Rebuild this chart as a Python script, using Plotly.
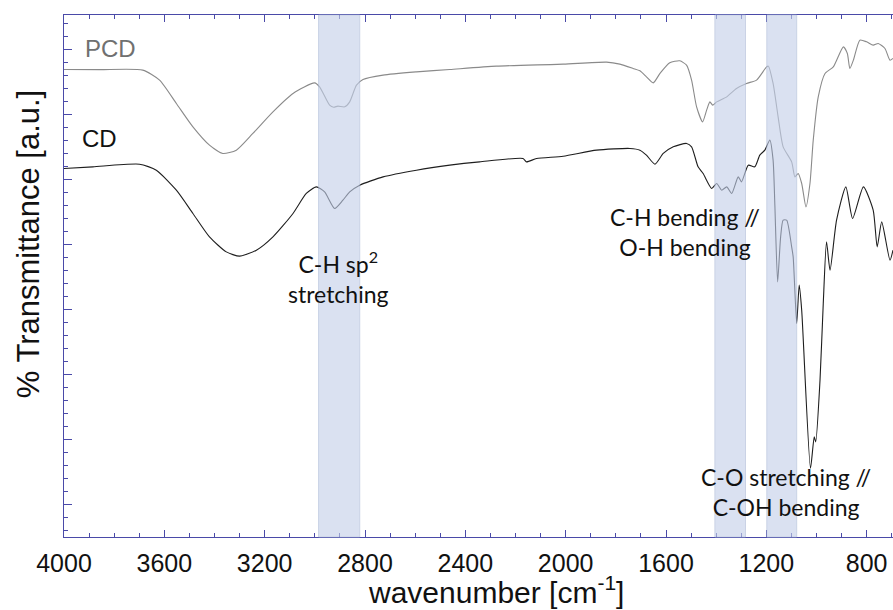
import plotly.graph_objects as go

# FTIR spectra (wavenumber in cm^-1, transmittance in arbitrary units)
pcd_wavenumber = [4000, 3858, 3686, 3619, 3552, 3486, 3420, 3367, 3313, 3247, 3167, 3087,
                  3001, 2981, 2941, 2925, 2908, 2881, 2861, 2834, 2808, 2728, 2595, 2462,
                  2276, 2010, 1837, 1784, 1731, 1704, 1678, 1651, 1624, 1585, 1545, 1518,
                  1498, 1478, 1454, 1438, 1425, 1414, 1398, 1358, 1319, 1279, 1239, 1199,
                  1192, 1173, 1153, 1133, 1099, 1086, 1073, 1059, 1042, 1026, 1013, 993,
                  966, 933, 893, 877, 867, 853, 827, 800, 774, 754, 727, 707, 695]
pcd_transmittance = [76.92, 76.89, 76.82, 75.28, 71.69, 68.09, 65.28, 64.0, 64.51, 67.08, 70.4, 73.23,
                     74.86, 74.25, 71.43, 71.12, 71.28, 71.17, 71.94, 74.51, 75.38, 76.05, 76.55, 76.92,
                     77.43, 77.74, 78.05, 77.74, 77.08, 76.71, 75.78, 74.86, 76.31, 77.94, 78.25, 77.58,
                     75.28, 71.17, 68.86, 70.66, 71.94, 71.43, 71.94, 72.71, 74.0, 74.77, 75.28, 77.32,
                     77.43, 74.77, 69.63, 65.02, 62.71, 60.4, 60.92, 59.38, 55.78, 59.38, 66.05, 72.71,
                     76.31, 77.32, 80.4, 79.38, 77.08, 78.35, 81.43, 81.17, 80.66, 80.92, 80.15, 78.35, 78.62]

cd_wavenumber = [4000, 3885, 3699, 3632, 3552, 3486, 3420, 3353, 3300, 3233, 3167, 3087,
                 3034, 2994, 2961, 2921, 2888, 2861, 2821, 2728, 2595, 2462, 2343, 2170,
                 2156, 2116, 2010, 1877, 1744, 1704, 1678, 1644, 1611, 1571, 1518, 1498,
                 1472, 1452, 1418, 1398, 1378, 1358, 1338, 1312, 1299, 1272, 1246, 1226,
                 1206, 1186, 1173, 1166, 1155, 1143, 1133, 1119, 1099, 1093, 1079, 1069,
                 1059, 1024, 1009, 1003, 986, 973, 960, 946, 920, 883, 856, 813,
                 774, 758, 740, 707, 695]
cd_transmittance = [61.69, 61.94, 62.35, 61.43, 58.35, 54.77, 51.17, 48.86, 48.2, 49.12, 51.17, 54.77,
                    57.85, 58.86, 58.09, 55.54, 56.82, 58.09, 59.12, 60.4, 61.43, 62.2, 62.71, 63.23,
                    62.71, 63.23, 63.58, 64.51, 64.77, 64.51, 63.74, 62.35, 64.0, 65.02, 65.54, 65.02,
                    61.94, 60.92, 58.62, 59.38, 58.35, 58.86, 57.85, 60.4, 59.63, 62.2, 61.94, 63.74,
                    64.51, 66.05, 62.97, 56.05, 44.25, 51.17, 53.74, 53.74, 49.63, 48.09, 37.85, 43.74,
                    39.89, 15.58, 20.4, 19.63, 29.12, 40.97, 50.4, 46.05, 53.74, 58.86, 54.0, 58.86,
                    55.28, 49.63, 53.48, 47.58, 49.12]

# Highlighted absorption regions (cm^-1)
band_starts = [2985, 1405, 1198]
band_ends = [2821, 1283, 1079]

# Band labels: text, wavenumber position, vertical position
band_labels = ["C-H sp<sup>2</sup><br>stretching", "C-H bending //<br>O-H bending",
               "C-O stretching //<br>C-OH bending"]
band_label_x = [2905, 1525, 1120]
band_label_y = [44.9, 51.97, 11.94]

# Sample names
sample_names = ["PCD", "CD"]
sample_name_x = [3926, 3938]
sample_name_y = [80.15, 66.3]
sample_name_colors = ["#707070", "#111111"]

x_tick_values = [4000, 3600, 3200, 2800, 2400, 2000, 1600, 1200, 800]
x_tick_text = [str(v) for v in x_tick_values]

axis_color = "#4a4aa8"
font_main = "Arial, Liberation Sans, sans-serif"
font_note = "Lato, Carlito, Calibri, sans-serif"

fig = go.Figure()

fig.add_trace(go.Scatter(
    x=pcd_wavenumber, y=pcd_transmittance, mode="lines", name="PCD",
    line=dict(color="#8a8a8a", width=1.1, shape="spline", smoothing=0.6),
))
fig.add_trace(go.Scatter(
    x=cd_wavenumber, y=cd_transmittance, mode="lines", name="CD",
    line=dict(color="#1e1e1e", width=1.1, shape="spline", smoothing=0.6),
))

for x0, x1 in zip(band_starts, band_ends):
    fig.add_shape(
        type="rect", xref="x", yref="paper", x0=x0, x1=x1, y0=0, y1=1,
        fillcolor="rgb(196,208,234)", opacity=0.62, layer="above",
        line=dict(color="rgb(170,184,214)", width=1),
    )

for text, x, y in zip(band_labels, band_label_x, band_label_y):
    fig.add_annotation(
        x=x, y=y, xref="x", yref="y", text=text, showarrow=False,
        align="center", xanchor="center", yanchor="middle",
        font=dict(family=font_note, size=23, color="#111111"),
    )

for text, x, y, c in zip(sample_names, sample_name_x, sample_name_y, sample_name_colors):
    fig.add_annotation(
        x=x, y=y, xref="x", yref="y", text=text, showarrow=False,
        xanchor="left", yanchor="middle",
        font=dict(family=font_main, size=24, color=c),
    )

# Axis titles
fig.add_annotation(
    x=0.521, y=-0.1395, xref="paper", yref="paper",
    text="wavenumber [cm<sup>-1</sup>]", showarrow=False,
    xanchor="center", yanchor="bottom", borderpad=0,
    font=dict(family=font_main, size=30, color="#111111"),
)
fig.add_annotation(
    x=-0.0434, y=0.561, xref="paper", yref="paper",
    text="% Transmittance [a.u.]", showarrow=False, textangle=-90,
    xanchor="center", yanchor="middle",
    font=dict(family=font_main, size=31, color="#111111"),
)

fig.update_layout(
    width=893, height=610,
    margin=dict(l=64, r=0, t=15, b=73),
    paper_bgcolor="white", plot_bgcolor="white",
    showlegend=False,
    font=dict(family=font_main, color="#111111"),
)

fig.update_xaxes(
    range=[4000, 695], autorange=False,
    tickmode="array", tickvals=x_tick_values, ticktext=x_tick_text,
    tickfont=dict(family=font_main, size=25, color="#111111"),
    ticks="inside", ticklen=7, tickwidth=1, tickcolor=axis_color,
    ticklabelstandoff=4,
    minor=dict(dtick=100, tick0=0, ticks="inside", ticklen=4, tickwidth=1, tickcolor=axis_color),
    showline=True, linecolor=axis_color, linewidth=1, mirror="ticks",
    showgrid=False, zeroline=False,
)

fig.update_yaxes(
    range=[5, 85.3], autorange=False,
    tick0=0, dtick=10, showticklabels=False,
    ticks="inside", ticklen=8, tickwidth=1, tickcolor=axis_color,
    minor=dict(dtick=2, tick0=0, ticks="inside", ticklen=4, tickwidth=1, tickcolor=axis_color),
    showline=True, linecolor=axis_color, linewidth=1, mirror=False,
    showgrid=False, zeroline=False,
)

fig.write_html("out.html")
